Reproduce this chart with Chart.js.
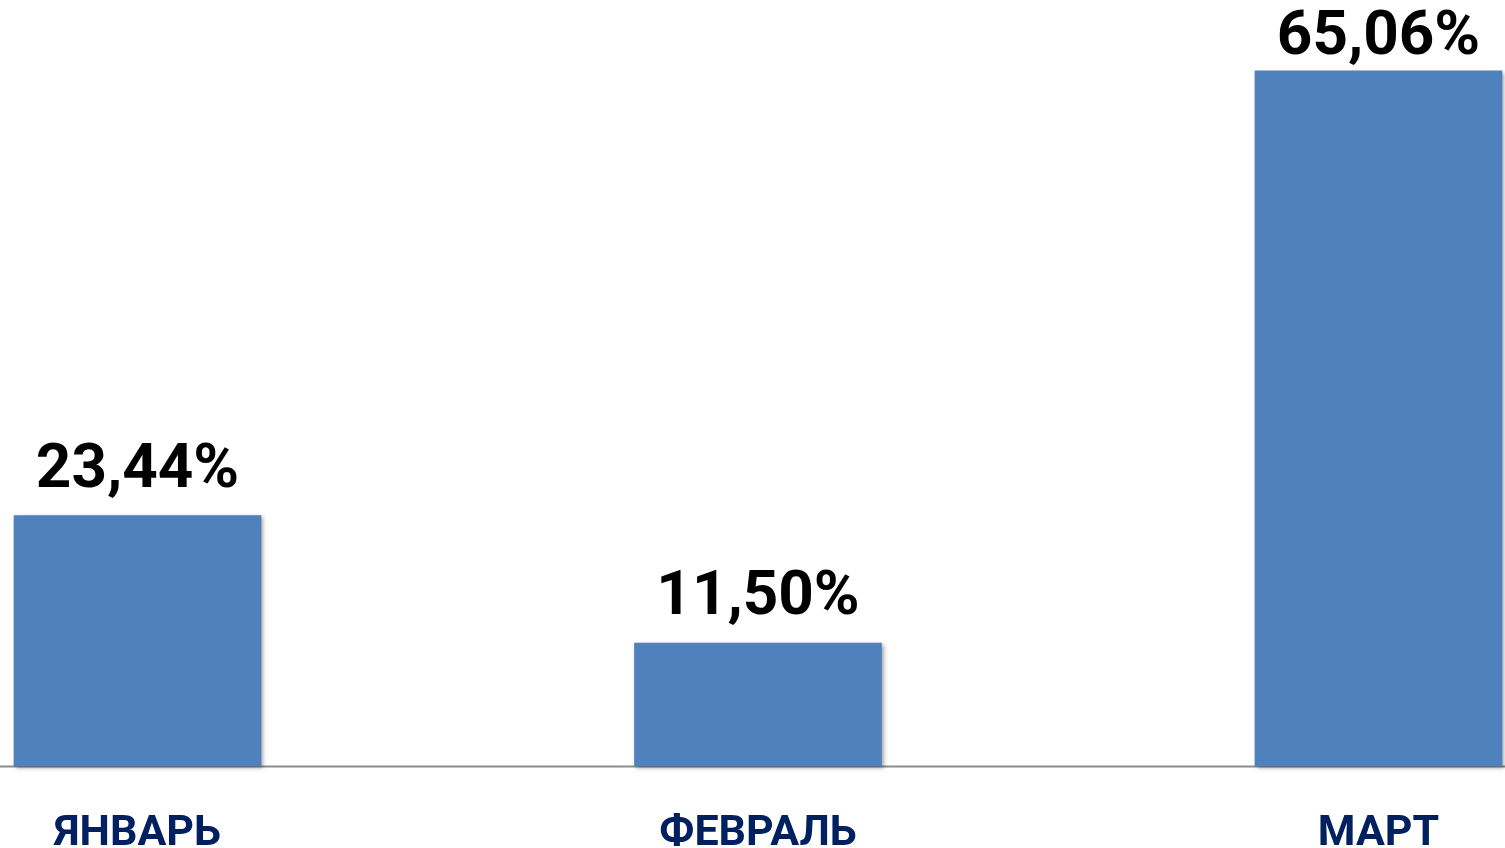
<!DOCTYPE html>
<html lang="ru">
<meta charset="utf-8" />
<title>Январь – Март</title>
<script src="https://cdn.jsdelivr.net/npm/chart.js@4.4.1"></script>
<style>
html,body{margin:0;padding:0;background:#fff;overflow:hidden}
canvas{display:block}
</style>
<body>
<canvas id="chart" width="1505" height="848"></canvas>
<script>
/* данные */
const months = ['ЯНВАРЬ', 'ФЕВРАЛЬ', 'МАРТ'];
const shares = [23.44, 11.50, 65.06];

const fmt = v => v.toFixed(2).replace('.', ',') + '%';

/* тень под столбцами */
const barShadow = {
  id: 'barShadow',
  beforeDatasetDraw(chart) {
    const c = chart.ctx;
    c.save();
    c.shadowColor = 'rgba(0,0,0,0.35)';
    c.shadowBlur = 4;
    c.shadowOffsetX = 2;
    c.shadowOffsetY = 2;
  },
  afterDatasetDraw(chart) { chart.ctx.restore(); }
};

/* базовая линия на всю ширину */
const baseLine = {
  id: 'baseLine',
  beforeDatasetsDraw(chart) {
    const c = chart.ctx, y = Math.round(chart.scales.y.getPixelForValue(0)) + 0.5;
    c.save();
    c.strokeStyle = '#8c8c8c';
    c.lineWidth = 2;
    c.beginPath();
    c.moveTo(0, y);
    c.lineTo(chart.width, y);
    c.stroke();
    c.restore();
  }
};

/* подписи значений над столбцами */
const valueLabels = {
  id: 'valueLabels',
  afterDatasetsDraw(chart) {
    const c = chart.ctx;
    const meta = chart.getDatasetMeta(0);
    c.save();
    c.font = 'bold 62px Roboto';
    c.fillStyle = '#000';
    c.textAlign = 'center';
    c.textBaseline = 'alphabetic';
    meta.data.forEach((bar, i) => {
      const y = Math.max(bar.y - 29, 54);
      c.fillText(fmt(shares[i]), bar.x, y);
    });
    c.restore();
  }
};

new Chart(document.getElementById('chart'), {
  type: 'bar',
  data: {
    labels: months,
    datasets: [{
      data: shares,
      backgroundColor: '#4f81bd',
      borderWidth: 0,
      barThickness: 247,
      clip: false
    }]
  },
  options: {
    responsive: false,
    animation: false,
    layout: { padding: { left: 137.5, right: 126.5, top: 0, bottom: 0 } },
    plugins: { legend: { display: false }, tooltip: { enabled: false } },
    scales: {
      x: {
        offset: false,
        afterFit(scale) { scale.height = 82; },   // ось внизу, подписи частично обрезаны
        grid: { display: false, drawTicks: false },
        border: { display: false },
        ticks: {
          padding: 50,
          color: '#002060',
          font: { family: 'Roboto', weight: 'bold', size: 43, lineHeight: 0.84 },
          maxRotation: 0
        }
      },
      y: { display: false, min: 0, max: 71.7 }
    }
  },
  plugins: [barShadow, baseLine, valueLabels]
});
</script>
</body>
</html>
